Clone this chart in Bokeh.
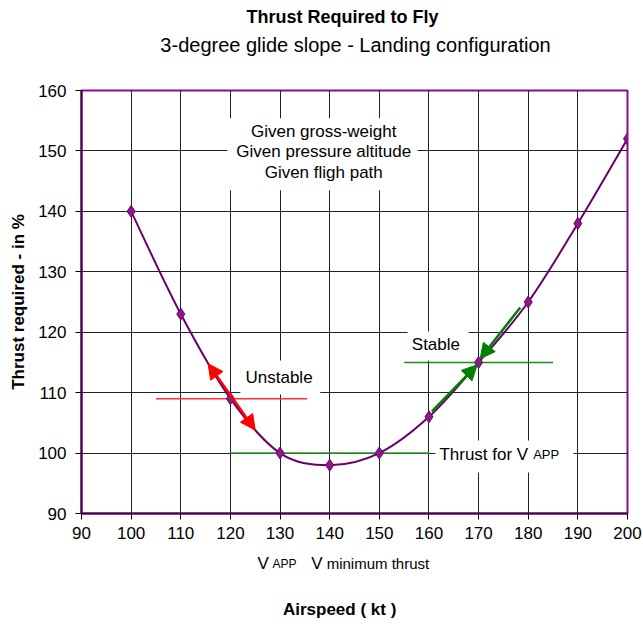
from bokeh.plotting import figure
from bokeh.models import Range1d, FixedTicker, Label, Arrow, NormalHead
from bokeh.embed import file_html
from bokeh.resources import INLINE

# ---- data ----
airspeed = [100, 110, 120, 130, 140, 150, 160, 170, 180, 190, 200]
thrust = [140, 123, 109, 100, 98, 100, 106, 115, 125, 138, 152]
x_ticks = [90, 100, 110, 120, 130, 140, 150, 160, 170, 180, 190, 200]
y_ticks = [90, 100, 110, 120, 130, 140, 150, 160]

title_text = "Thrust Required to Fly"
subtitle_text = "3-degree glide slope - Landing configuration"
x_title = "Airspeed ( kt )"
y_title = "Thrust required - in %"
given_lines = ["Given gross-weight", "Given pressure altitude", "Given fligh path"]

FONT = "Liberation Sans"

p = figure(width=643, height=624, output_backend="svg", toolbar_location=None,
           x_range=Range1d(90, 200), y_range=Range1d(90, 160),
           min_border_left=81, min_border_top=90, min_border_right=16, min_border_bottom=111)
p.title.visible = False
p.background_fill_color = "white"
p.border_fill_color = "white"
p.outline_line_color = "#8b0a8b"
p.outline_line_width = 2

for ax, ticks, standoff in ((p.xaxis, x_ticks, 7), (p.yaxis, y_ticks, 9)):
    ax.ticker = FixedTicker(ticks=ticks)
    ax.major_tick_in = 0
    ax.major_tick_out = 6
    ax.major_tick_line_color = "black"
    ax.minor_tick_line_color = None
    ax.axis_line_color = "#4a0048"
    ax.axis_line_width = 2
    ax.major_label_text_font = FONT
    ax.major_label_text_font_size = "17px"
    ax.major_label_text_color = "black"
    ax.major_label_standoff = standoff

p.yaxis.axis_label = y_title
p.yaxis.axis_label_text_font = FONT
p.yaxis.axis_label_text_font_size = "17px"
p.yaxis.axis_label_text_font_style = "bold"
p.yaxis.axis_label_text_color = "black"
p.yaxis.axis_label_standoff = 7

p.xgrid.ticker = FixedTicker(ticks=x_ticks)
p.ygrid.ticker = FixedTicker(ticks=y_ticks)
for g in (p.xgrid, p.ygrid):
    g.grid_line_color = "#222222"
    g.grid_line_width = 1

# white boxes behind annotations
p.quad(left=[119.4, 122.0, 155.7, 161.3], right=[157.7, 138.1, 168.0, 189.1],
       bottom=[143.5, 109.7, 115.3, 96.8], top=[155.4, 115.3, 120.1, 102.1],
       fill_color="white", line_color=None)

# reference lines
p.line([105, 135.5], [109, 109], line_color="#ff3030", line_width=1.5)
p.line([120, 160], [100, 100], line_color="#2e9a2e", line_width=1.5)
p.line([155, 185], [115, 115], line_color="#1a8c1a", line_width=1.5)

# smooth curve via bezier segments (Catmull-Rom control points from the data)
n = len(airspeed)
x0s, y0s, x1s, y1s, cx0, cy0, cx1, cy1 = [], [], [], [], [], [], [], []
for i in range(n - 1):
    pm = (airspeed[max(i - 1, 0)], thrust[max(i - 1, 0)])
    p0 = (airspeed[i], thrust[i])
    p1 = (airspeed[i + 1], thrust[i + 1])
    p2 = (airspeed[min(i + 2, n - 1)], thrust[min(i + 2, n - 1)])
    x0s.append(p0[0]); y0s.append(p0[1]); x1s.append(p1[0]); y1s.append(p1[1])
    cx0.append(p0[0] + (p1[0] - pm[0]) / 6.0); cy0.append(p0[1] + (p1[1] - pm[1]) / 6.0)
    cx1.append(p1[0] - (p2[0] - p0[0]) / 6.0); cy1.append(p1[1] - (p2[1] - p0[1]) / 6.0)
p.bezier(x0=x0s, y0=y0s, x1=x1s, y1=y1s, cx0=cx0, cy0=cy0, cx1=cx1, cy1=cy1,
         line_color="#6a006a", line_width=2)

# arrows
red_head = dict(size=15, fill_color="#ff0000", line_color="#ff0000")
p.add_layout(Arrow(x_start=115.5, y_start=114.8, x_end=125.0, y_end=103.8,
                   start=NormalHead(**red_head), end=NormalHead(**red_head),
                   line_color="#ff0000", line_width=2.5))
green_head = dict(size=15, fill_color="#008000", line_color="#008000")
p.add_layout(Arrow(x_start=178.4, y_start=124.1, x_end=170.3, y_end=115.6,
                   end=NormalHead(**green_head), line_color="#008000", line_width=2.5))
p.add_layout(Arrow(x_start=160.6, y_start=106.9, x_end=169.7, y_end=114.6,
                   end=NormalHead(**green_head), line_color="#008000", line_width=2.5))

# markers
p.scatter(airspeed, thrust, marker="diamond", size=12, fill_color="#8b1a8b",
          line_color="#6a006a", line_width=1)

def lab(x, y, text, size="17px", style="normal", align="left", baseline="alphabetic",
        place="center"):
    lbl = Label(x=x, y=y, text=text, text_font=FONT, text_font_size=size,
                text_font_style=style, text_align=align, text_baseline=baseline,
                text_color="black")
    p.add_layout(lbl, place)

# texts outside the frame (placed in side panels so they are not clipped)
lab(142.6, 172.1, title_text, size="18px", style="bold", align="center", baseline="middle",
    place="above")
lab(145.2, 167.6, subtitle_text, size="20px", align="center", baseline="middle", place="above")
lab(142.0, 74.1, x_title, size="17px", style="bold", align="center", baseline="middle",
    place="above")

VROW = 81.7
lab(125.46, VROW, "V", size="17px", place="below")
lab(128.48, VROW, "APP", size="12px", place="below")
lab(136.3, VROW, "V", size="17px", place="below")
lab(139.4, VROW, "minimum thrust", size="15px", place="below")

# in-plot texts
for txt, yb in zip(given_lines, [153.27, 149.86, 146.39]):
    lab(138.8, yb, txt, size="17px", align="center")
lab(129.8, 112.46, "Unstable", size="17px", align="center")
lab(161.4, 117.97, "Stable", size="17px", align="center")
lab(162.1, 99.77, "Thrust for V", size="17px")
lab(181.0, 99.77, "APP", size="13px")

open("out.html", "w").write(file_html(p, INLINE))
